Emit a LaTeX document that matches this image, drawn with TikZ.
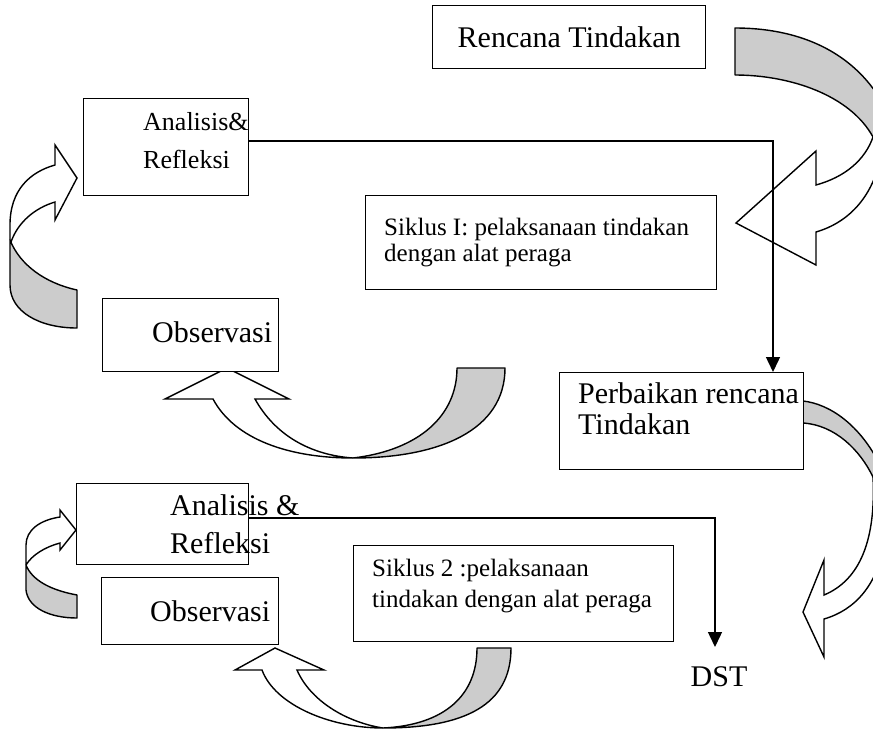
\documentclass[tikz,border=0pt]{standalone}
\usepackage{fontspec}
\setmainfont{Liberation Serif}
\usetikzlibrary{arrows.meta}
\definecolor{bandgray}{RGB}{204,204,204}
\tikzset{
  box/.style={draw, line width=1.4pt, fill=white, inner sep=0pt, anchor=north west},
  big/.style={font=\fontsize{30}{34}\selectfont, inner sep=0pt},
  mid/.style={font=\fontsize{26}{30}\selectfont, inner sep=0pt},
  small/.style={font=\fontsize{25}{28}\selectfont, inner sep=0pt},
  band/.style={draw, line width=1.4pt, fill=bandgray, line join=round},
  front/.style={draw, line width=1.4pt, line join=miter},
  conn/.style={line width=1.4pt, -{Triangle[length=15pt,width=14pt]}}
}
\begin{document}
\begin{tikzpicture}[x=1pt,y=-1pt]
\useasboundingbox (0,0) rectangle (873,732);
\clip (0,0) rectangle (873,732);
% ---- curved arrow top right
\path[band] (735,28) .. controls (810,28) and (870,60) .. (895,130) -- (895,145) -- (873,137) .. controls (850,95) and (790,75) .. (735,75) -- cycle;
\path[front] (873,137) .. controls (865,160) and (845,177) .. (816,185) -- (816,151) -- (736,223) -- (816,265) -- (816,232) .. controls (850,222) and (875,195) .. (882,150);
% ---- curved arrow top left
\path[band] (77,290) .. controls (45,283) and (20,265) .. (10,240) -- (10,285) .. controls (10,312) and (40,328) .. (77,328) -- cycle;
\path[front] (10,240) -- (10,225) .. controls (10,190) and (30,172) .. (55,165) -- (55,145) -- (77,178) -- (55,220) -- (55,202) .. controls (35,208) and (18,222) .. (11,242);
% ---- curved arrow under Observasi (1)
\path[band] (457,368) -- (505,368) .. controls (505,430) and (440,458) .. (353,458) .. controls (420,450) and (457,415) .. (457,368) -- cycle;
\path[front] (353,458) .. controls (290,458) and (235,440) .. (213,399) -- (165,399) -- (227,368) -- (289,399) -- (255,399) .. controls (275,435) and (310,455) .. (353,458);
% ---- curved arrow right (2)
\path[band] (803,401) .. controls (830,404) and (860,425) .. (880,465) -- (880,485) -- (873,477) .. controls (860,450) and (835,425) .. (803,423) -- cycle;
\path[front] (873,477) .. controls (876,540) and (860,580) .. (824,595) -- (824,560) -- (803,612) -- (824,657) -- (824,619) .. controls (855,610) and (878,585) .. (885,540);
% ---- curved arrow bottom left
\path[band] (77,595) .. controls (50,590) and (32,580) .. (26,565) -- (26,590) .. controls (28,608) and (50,618) .. (77,618) -- cycle;
\path[front] (26,565) -- (26,545) .. controls (26,530) and (40,520) .. (60,517) -- (60,510) -- (76,530) -- (60,550) -- (60,543) .. controls (45,547) and (32,555) .. (26,565);
% ---- curved arrow under Observasi (2)
\path[band] (477,648) -- (511,648) .. controls (511,705) and (465,728) .. (383,728) .. controls (445,725) and (477,695) .. (477,648) -- cycle;
\path[front] (383,728) .. controls (330,728) and (275,705) .. (262,670) -- (235,670) -- (275,648) -- (324,670) -- (297,670) .. controls (310,700) and (345,722) .. (383,728);
% ---- boxes
\node[box, minimum width=273pt, minimum height=63pt] (rt) at (432,5) {};
\node[big] (rtt) at (rt.center) {Rencana Tindakan};
\node[box, minimum width=165pt, minimum height=97pt] (ar1) at (83,98) {};
\node[mid, anchor=base west] (ar1a) at (143,130) {Analisis\&};
\node[mid, anchor=base west] (ar1b) at (143,168) {Refleksi};
\node[box, minimum width=351pt, minimum height=94pt] (s1) at (365,195) {};
\node[small, anchor=base west] (s1a) at (384,235) {Siklus I: pelaksanaan tindakan};
\node[small, anchor=base west] (s1b) at (384,261) {dengan alat peraga};
\node[box, minimum width=176pt, minimum height=73pt] (ob1) at (102,298) {};
\node[big, anchor=base west] (ob1t) at (152,342) {Observasi};
\node[box, minimum width=244pt, minimum height=97pt] (pr) at (559,372) {};
\node[big, anchor=base west] (prta) at (578,403) {Perbaikan rencana};
\node[big, anchor=base west] (prtb) at (578,434) {Tindakan};
\node[box, minimum width=172pt, minimum height=81pt] (ar2) at (76,483) {};
\node[big, anchor=base west] (ar2a) at (170,515) {Analisis \&};
\node[big, anchor=base west] (ar2b) at (170,553) {Refleksi};
\node[box, minimum width=320pt, minimum height=96pt] (s2) at (353,545) {};
\node[small, anchor=base west] (s2a) at (372,576) {Siklus 2 :pelaksanaan};
\node[small, anchor=base west] (s2b) at (372,607) {tindakan dengan alat peraga};
\node[box, minimum width=177pt, minimum height=67pt] (ob2) at (101,577) {};
\node[big, anchor=base west] (ob2t) at (150,621) {Observasi};
\node[big] (dst) at (719,677) {DST};
% ---- connectors
\coordinate (c1) at (773,141);
\draw[conn] (ar1.east |- c1) -- (c1) -- (c1 |- pr.north);
\coordinate (c2) at (715,518);
\draw[conn] (ar2.east |- c2) -- (c2) -- (715,647);
\end{tikzpicture}
\end{document}
